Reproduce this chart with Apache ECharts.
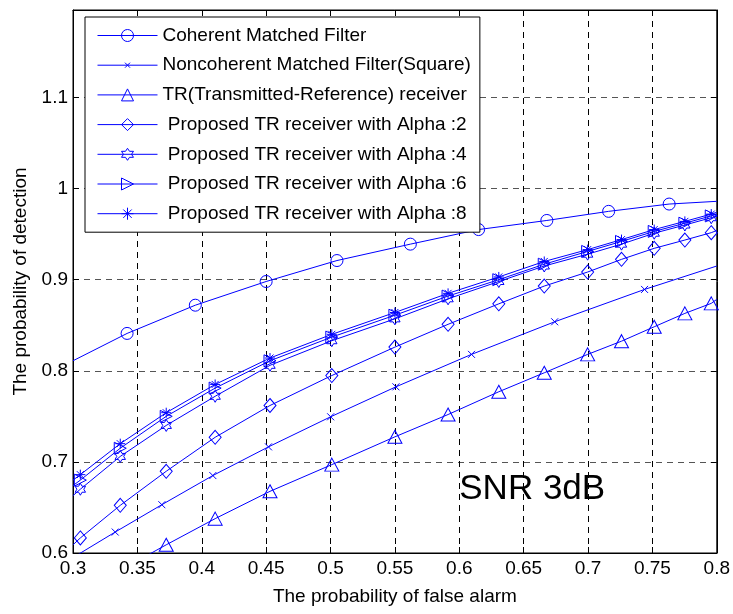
<!DOCTYPE html>
<html>
<head>
<meta charset="utf-8">
<script src="https://cdn.jsdelivr.net/npm/echarts@6/dist/echarts.min.js"></script>
<style>
html,body{margin:0;padding:0;background:#fff;}
#chart{width:733px;height:614px;}
</style>
</head>
<body>
<div id="chart"></div>
<script>
// ---------------- data ----------------
const xTicks = [0.3, 0.35, 0.4, 0.45, 0.5, 0.55, 0.6, 0.65, 0.7, 0.75, 0.8];
const yTicks = [0.6, 0.7, 0.8, 0.9, 1.0, 1.1];

const seriesNames = [
  'Coherent Matched Filter',
  'Noncoherent Matched Filter(Square)',
  'TR(Transmitted-Reference) receiver',
  ' Proposed TR receiver with Alpha :2',
  ' Proposed TR receiver with Alpha :4',
  ' Proposed TR receiver with Alpha :6',
  ' Proposed TR receiver with Alpha :8'
];

// Coherent matched filter
const xCoh = [0.3, 0.342, 0.395, 0.45, 0.505, 0.562, 0.615, 0.668, 0.716, 0.763, 0.8];
const yCoh = [0.811, 0.841, 0.872, 0.898, 0.921, 0.939, 0.955, 0.965, 0.975, 0.983, 0.986];

// Noncoherent matched filter (square)
const xNc = [0.3, 0.3328, 0.369, 0.4086, 0.4518, 0.5001, 0.5508, 0.6095, 0.6741, 0.7439, 0.8];
const yNc = [0.595, 0.623, 0.653, 0.685, 0.7165, 0.7495, 0.7824, 0.818, 0.8538, 0.8893, 0.915];

// common false-alarm grid of the TR curves
const xTR = [0.3, 0.3057, 0.3367, 0.3724, 0.4104, 0.453, 0.501, 0.55, 0.5913, 0.6307, 0.666, 0.6997, 0.726, 0.7514, 0.7752, 0.7957, 0.8];
const yTR = [null, null, 0.581, 0.609, 0.6377, 0.6677, 0.697, 0.7275, 0.752, 0.777, 0.7978, 0.818, 0.8325, 0.8483, 0.863, 0.874, 0.8784];
const yA2 = [0.609, 0.6165, 0.6523, 0.6897, 0.727, 0.7619, 0.7948, 0.826, 0.851, 0.8735, 0.893, 0.9084, 0.9223, 0.9344, 0.9435, 0.9516, 0.954];
const yA4 = [0.663, 0.670, 0.706, 0.740, 0.772, 0.806, 0.833, 0.857, 0.879, 0.898, 0.915, 0.928, 0.939, 0.951, 0.960, 0.968, 0.970];
const yA6 = [0.674, 0.680, 0.715, 0.750, 0.781, 0.811, 0.837, 0.861, 0.882, 0.900, 0.917, 0.931, 0.942, 0.953, 0.962, 0.970, 0.972];
const yA8 = [0.680, 0.686, 0.720, 0.754, 0.785, 0.814, 0.840, 0.864, 0.885, 0.903, 0.920, 0.933, 0.944, 0.955, 0.964, 0.972, 0.974];

const annotation = {text: 'SNR 3dB', x: 0.6, y: 0.670};

// ---------------- styling ----------------
const BLUE = '#0000ff';
const FONT = '"Liberation Sans", Arial, Helvetica, sans-serif';
const SYM = {
  circle: 'circle',
  cross: 'path://M0,0L10,10M10,0L0,10',
  tri: 'triangle',
  diamond: 'diamond',
  hex: 'path://M10,0L12.887,5L18.66,5L15.774,10L18.66,15L12.887,15L10,20L7.113,15L1.34,15L4.226,10L1.34,5L7.113,5Z',
  right: 'path://M0,0L10,5L0,10Z',
  star: 'path://M5,0L5,10M0,5L10,5M1.5,1.5L8.5,8.5M8.5,1.5L1.5,8.5'
};
// legend icon for the small cross marker: line sample + small x, box 60x15
const crossLegendIcon = 'path://M0,0L0.01,0M60,15L59.99,15M0,7.5L60,7.5M27.5,5L32.5,10M32.5,5L27.5,10';

function pts(xs, ys) {
  const out = [];
  for (let i = 0; i < xs.length; i++) {
    if (ys[i] == null) continue;
    const item = {value: [xs[i], ys[i]]};
    // line ends (and points under the axis) carry no marker
    if (i === 0 || i === xs.length - 1 || ys[i] < 0.6) item.symbol = 'none';
    out.push(item);
  }
  return out;
}

function mkSeries(name, data, symbol, size) {
  return {
    name: name,
    type: 'line',
    data: data,
    symbol: symbol,
    symbolSize: size,
    symbolKeepAspect: true,
    showAllSymbol: true,
    clip: true,
    smooth: false,
    animation: false,
    lineStyle: {color: BLUE, width: 1},
    itemStyle: {color: 'rgba(0,0,0,0)', borderColor: BLUE, borderWidth: 1},
    emphasis: {disabled: true}
  };
}

const series = [
  mkSeries(seriesNames[0], pts(xCoh, yCoh), SYM.circle, 12),
  mkSeries(seriesNames[1], pts(xNc, yNc), SYM.cross, 7),
  mkSeries(seriesNames[2], pts(xTR, yTR), SYM.tri, [14, 13]),
  mkSeries(seriesNames[3], pts(xTR, yA2), SYM.diamond, [12, 14]),
  mkSeries(seriesNames[4], pts(xTR, yA4), SYM.hex, 12),
  mkSeries(seriesNames[5], pts(xTR, yA6), SYM.right, 12),
  mkSeries(seriesNames[6], pts(xTR, yA8), SYM.star, 10)
];

const legendData = seriesNames.map((n, i) => (i === 1 ? {name: n, icon: crossLegendIcon} : {name: n}));

const tickStyle = {show: true, inside: true, length: 6, lineStyle: {color: '#000', width: 1}};
const axisLineStyle = {show: true, onZero: false, lineStyle: {color: '#000', width: 1}};

const chart = echarts.init(document.getElementById('chart'), null, {renderer: 'canvas'});
const option = {
  backgroundColor: '#fff',
  animation: false,
  textStyle: {fontFamily: FONT},
  grid: {left: 73, right: 16, top: 10, bottom: 61, show: true, borderColor: '#000', borderWidth: 1, backgroundColor: 'rgba(0,0,0,0)'},
  legend: {
    orient: 'vertical',
    left: 85, top: 17,
    padding: [9, 9, 9, 12],
    itemWidth: 60, itemHeight: 15, itemGap: 10.7,
    backgroundColor: '#fff',
    borderColor: '#000', borderWidth: 1, borderRadius: 0,
    textStyle: {fontFamily: FONT, fontSize: 19, color: '#000'},
    itemStyle: {borderWidth: 1},
    lineStyle: {width: 1},
    selectedMode: false,
    data: legendData
  },
  xAxis: [{
    type: 'value', position: 'bottom', min: xTicks[0], max: xTicks[xTicks.length - 1], interval: 0.05,
    name: 'The probability of false alarm', nameLocation: 'middle', nameGap: 34,
    nameTextStyle: {fontFamily: FONT, fontSize: 19, color: '#000'},
    axisLine: axisLineStyle, axisTick: tickStyle,
    axisLabel: {fontFamily: FONT, fontSize: 19, color: '#000', margin: 6},
    splitLine: {show: true, lineStyle: {color: '#000', type: [6, 5], width: 1}}
  }, {
    type: 'value', position: 'top', min: xTicks[0], max: xTicks[xTicks.length - 1], interval: 0.05,
    axisLine: axisLineStyle, axisTick: tickStyle, axisLabel: {show: false}, splitLine: {show: false}
  }],
  yAxis: [{
    type: 'value', position: 'left', min: yTicks[0], max: 1.196, interval: 0.1,
    name: 'The probability of detection', nameLocation: 'middle', nameGap: 42,
    nameTextStyle: {fontFamily: FONT, fontSize: 19, color: '#000'},
    axisLine: axisLineStyle, axisTick: tickStyle,
    axisLabel: {fontFamily: FONT, fontSize: 19, color: '#000', margin: 5, showMaxLabel: false,
      formatter: v => (yTicks.some(t => Math.abs(t - v) < 1e-6) ? String(+v.toFixed(2)) : '')},
    splitLine: {show: true, lineStyle: {color: '#555', type: [6, 5], width: 1}}
  }, {
    type: 'value', position: 'right', min: yTicks[0], max: 1.196, interval: 0.1,
    axisLine: axisLineStyle, axisTick: tickStyle, axisLabel: {show: false}, splitLine: {show: false}
  }],
  series: series
};
chart.setOption(option);

const p = chart.convertToPixel({xAxisIndex: 0, yAxisIndex: 0}, [annotation.x, annotation.y]);
chart.setOption({
  graphic: [{
    type: 'text', x: p[0], y: p[1], z: 100,
    style: {text: annotation.text, fontFamily: FONT, fontSize: 35, fill: '#000', verticalAlign: 'middle', align: 'left'}
  }]
});
</script>
</body>
</html>
